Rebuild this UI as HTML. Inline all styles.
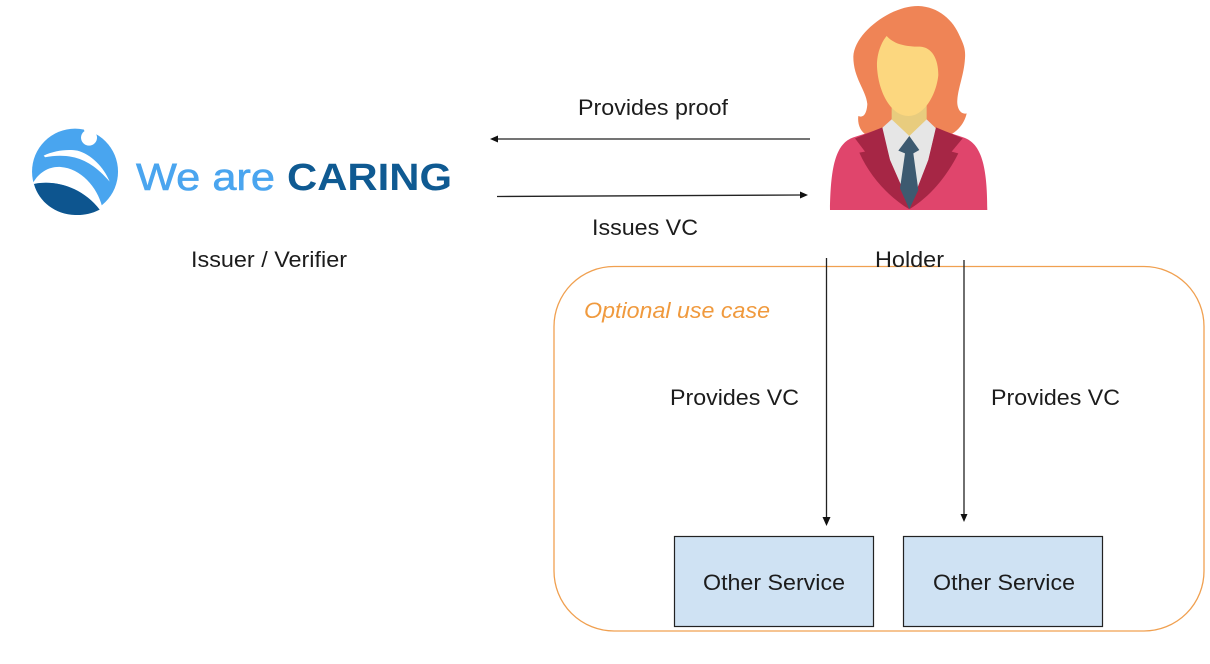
<!DOCTYPE html>
<html><head><meta charset="utf-8"><style>
html,body{margin:0;padding:0;background:#fff;width:1210px;height:664px;overflow:hidden}
svg{display:block}
text{font-family:"Liberation Sans",Arial,sans-serif;fill:#1c1c1c}
</style></head><body>
<svg width="1210" height="664" viewBox="0 0 1210 664" xmlns="http://www.w3.org/2000/svg">
<defs><filter id="b" x="-5%" y="-5%" width="110%" height="110%"><feGaussianBlur stdDeviation="0.5"/></filter></defs>
<rect width="1210" height="664" fill="#fff"/>
<!-- Logo -->
<g transform="translate(25.700,122.300) scale(.3333)" filter="url(#b)">
<circle cx="148" cy="148" r="129" fill="#4aa5ef"/>
<path d="M22 182C40 150 70 132 105 134C165 138 215 195 229 252L222 262C170 195 90 172 25 185Z" fill="#fff"/>
<path d="M25 185C90 172 170 195 222 262C195 276 170 279 148 278C90 276 40 240 25 185Z" fill="#0a558f"/>
<path d="M54 100C85 85 125 80 155 85C195 95 235 135 252 178C215 135 180 112 140 104C110 98 85 100 58 105Z" fill="#fff"/>
<circle cx="190" cy="46" r="24" fill="#fff"/>
<path d="M176 26L172 12L222 18L218 38L206 32Z" fill="#fff"/>
</g>
<text x="136" y="190" font-size="38" style="fill:#4aa5ef;stroke:#4aa5ef;stroke-width:.6" textLength="139" lengthAdjust="spacingAndGlyphs">We are</text>
<text x="287" y="190" font-size="38" font-weight="700" style="fill:#0f5a92" textLength="165" lengthAdjust="spacingAndGlyphs">CARING</text>
<!-- Person -->
<g transform="translate(810,0) scale(.3333)" filter="url(#b)">
<path d="M325 18C385 20 430 60 450 110C462 135 467 150 465 175C462 225 445 260 442 300C440 325 452 345 470 340C466 362 448 390 425 402L165 402C150 392 142 370 145 348C158 354 170 345 172 312C168 270 130 235 130 170C132 120 185 68 240 40C270 26 295 18 325 18Z" fill="#ef8456"/>
<path d="M245 310L350 310L350 365L298 410L245 365Z" fill="#e8cc7e"/>
<path d="M230 108C250 130 280 140 330 140C365 142 385 175 385 225C380 280 345 348 295 348C245 348 205 280 201 200C200 160 215 125 230 108Z" fill="#fcd77f"/>
<path d="M215 385L245 358L298 408L350 358L378 385L355 480L320 570L298 628L275 560L240 480Z" fill="#e6e6e6"/>
<path d="M215 385L130 412C80 430 62 490 60 630L532 630C532 500 515 430 460 412L378 385L355 480L320 570L298 628L275 560L240 480Z" fill="#e0456c"/>
<path d="M217 382L135 415L165 455L148 458C180 530 235 590 298 628L275 560L240 480Z" fill="#a62845"/>
<path d="M378 382L458 415L425 455L445 460C410 530 360 590 298 628L320 570L355 480Z" fill="#a62845"/>
<path d="M298 408L328 450L310 460L325 570L298 628L270 565L285 460L265 452Z" fill="#3c5a70"/>
</g>
<!-- Optional use case box -->
<rect x="554" y="266.500" width="650" height="364.500" rx="60" ry="60" fill="none" stroke="#f0a050" stroke-width="1.300"/>
<text x="584" y="318" font-size="22" font-style="italic" style="fill:#f09a3e" textLength="186" lengthAdjust="spacingAndGlyphs">Optional use case</text>
<!-- Connectors -->
<g stroke="#222" stroke-width="1.300" fill="none">
<line x1="810" y1="139" x2="496" y2="139"/>
<line x1="497" y1="196.500" x2="802" y2="195"/>
<line x1="826.500" y1="258" x2="826.500" y2="518"/>
<line x1="964" y1="260" x2="964" y2="516"/>
</g>
<g fill="#111">
<path d="M490 139L498 135.500L498 142.500Z"/>
<path d="M808 195L800 191.500L800 198.500Z"/>
<path d="M826.500 526L822.500 517L830.500 517Z"/>
<path d="M964 522L960.500 514L967.500 514Z"/>
</g>
<!-- Services -->
<rect x="674.500" y="536.500" width="199" height="90" fill="#cfe2f3" stroke="#222" stroke-width="1.200"/>
<rect x="903.500" y="536.500" width="199" height="90" fill="#cfe2f3" stroke="#222" stroke-width="1.200"/>
<!-- Labels -->
<g font-size="22.500">
<text x="578" y="115" textLength="150" lengthAdjust="spacingAndGlyphs">Provides proof</text>
<text x="592" y="235" textLength="106" lengthAdjust="spacingAndGlyphs">Issues VC</text>
<text x="191" y="267" textLength="156" lengthAdjust="spacingAndGlyphs">Issuer / Verifier</text>
<text x="875" y="267" textLength="69" lengthAdjust="spacingAndGlyphs">Holder</text>
<text x="670" y="405" textLength="129" lengthAdjust="spacingAndGlyphs">Provides VC</text>
<text x="991" y="405" textLength="129" lengthAdjust="spacingAndGlyphs">Provides VC</text>
<text x="703" y="590" textLength="142" lengthAdjust="spacingAndGlyphs">Other Service</text>
<text x="933" y="590" textLength="142" lengthAdjust="spacingAndGlyphs">Other Service</text>
</g>
</svg>
</body></html>
